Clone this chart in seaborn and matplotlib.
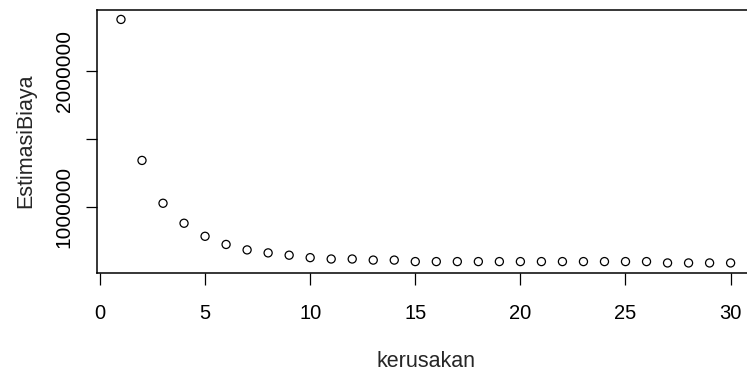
import pandas as pd
import matplotlib
matplotlib.use('Agg')
import matplotlib.pyplot as plt
import seaborn as sns
import numpy as np

# values
kerusakan = list(range(1, 31))
estimasi_biaya = [2377000, 1340000, 1025000, 878000, 782000, 722000, 682000,
                  660000, 643000, 625000, 615000, 615000, 607000, 607000,
                  596000, 596000, 596000, 596000, 596000, 596000, 596000,
                  596000, 596000, 596000, 596000, 596000, 586000, 586000,
                  586000, 586000]
x_ticks = [0, 5, 10, 15, 20, 25, 30]
y_ticks = [1000000, 1500000, 2000000]
y_tick_labels = ['1000000', '', '2000000']

df = pd.DataFrame({'kerusakan': kerusakan, 'EstimasiBiaya': estimasi_biaya})

sns.set_style('white')
plt.rcParams['font.family'] = ['Liberation Sans', 'DejaVu Sans']

fig = plt.figure(figsize=(7.47, 3.77), dpi=100)
ax = fig.add_axes([0.1293, 0.2767, 0.8814, 0.6976])

sns.scatterplot(data=df, x='kerusakan', y='EstimasiBiaya', ax=ax, marker='o',
                s=34, facecolors='none', edgecolor='black', linewidth=0.9)

# R style 4% padding on both axes
xr = max(kerusakan) - min(kerusakan)
ax.set_xlim(min(kerusakan) - 0.04 * xr, max(kerusakan) + 0.04 * xr)
yr = max(estimasi_biaya) - min(estimasi_biaya)
ax.set_ylim(min(estimasi_biaya) - 0.04 * yr, max(estimasi_biaya) + 0.04 * yr)

ax.set_xticks(x_ticks)
ax.set_xticklabels([str(t) for t in x_ticks], fontsize=14.5)
ax.set_yticks(y_ticks)
ax.set_yticklabels(y_tick_labels, rotation=90, va='center', fontsize=15)

ax.tick_params(axis='x', bottom=True, direction='out', length=8.6, width=0.9,
               pad=14, colors='black')
ax.tick_params(axis='y', left=True, direction='out', length=8, width=0.9,
               pad=8.5, colors='black')

for side in ['left', 'top', 'bottom', 'right']:
    ax.spines[side].set_color('black')
    ax.spines[side].set_linewidth(1.1)

ax.set_xlabel('kerusakan', fontsize=15.5, labelpad=20)
ax.set_ylabel('EstimasiBiaya', fontsize=15.5, labelpad=13)

fig.savefig('out.png', dpi=100)
